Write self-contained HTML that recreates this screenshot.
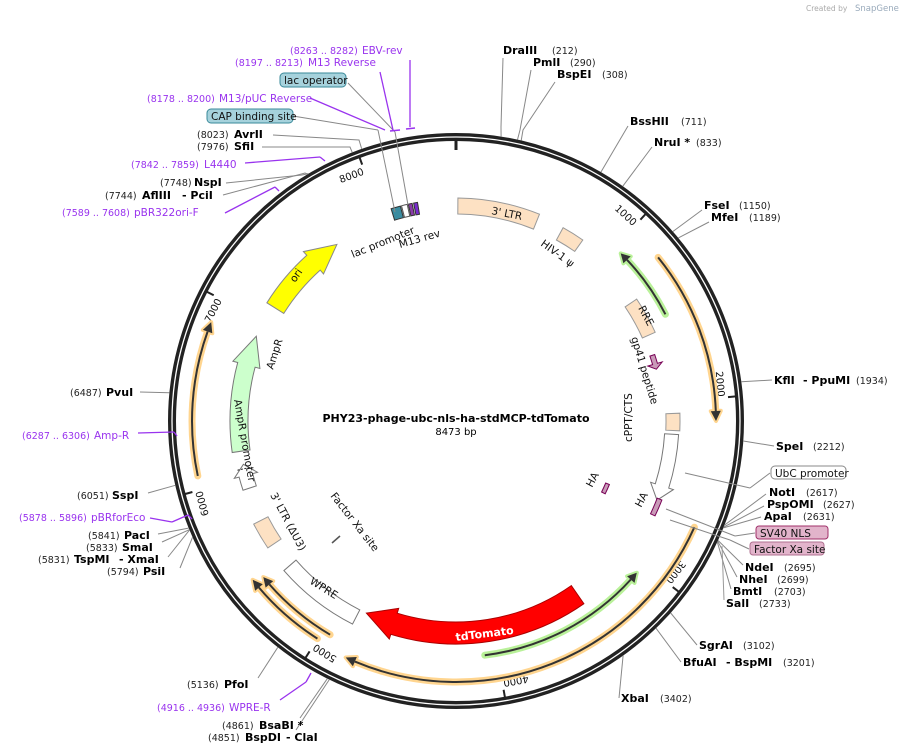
<!DOCTYPE html>
<html><head><meta charset="utf-8"><style>
html,body{margin:0;padding:0;background:#fff;}
svg{display:block;font-family:"DejaVu Sans","Liberation Sans",sans-serif;}
.e{font-weight:bold;font-size:11px;fill:#000;}
.n{font-size:9.5px;fill:#222;}
.p{font-size:10.5px;fill:#9933ee;}
.pn{font-size:9.5px;fill:#9933ee;}
.f{font-size:10.5px;fill:#111;}
</style></head><body>
<svg id="s" width="904" height="754" viewBox="0 0 904 754" xmlns="http://www.w3.org/2000/svg">
<text x="806" y="11" font-size="7.5" fill="#aaa">Created by</text>
<text x="855" y="11" font-size="8.5" fill="#9ab">SnapGene</text>
<g id="g"></g>
<text class="e" x="503" y="54">DraIII</text><text class="n" x="552" y="54">(212)</text>
<text class="e" x="533" y="66">PmlI</text><text class="n" x="570" y="66">(290)</text>
<text class="e" x="557" y="78">BspEI</text><text class="n" x="602" y="78">(308)</text>
<text class="e" x="630" y="125">BssHII</text><text class="n" x="681" y="125">(711)</text>
<text class="e" x="654" y="146">NruI *</text><text class="n" x="696" y="146">(833)</text>
<text class="e" x="704" y="209">FseI</text><text class="n" x="739" y="209">(1150)</text>
<text class="e" x="711" y="221">MfeI</text><text class="n" x="749" y="221">(1189)</text>
<text class="e" x="774" y="384">KflI</text><text class="e" x="803" y="384">- PpuMI</text><text class="n" x="856" y="384">(1934)</text>
<text class="e" x="776" y="450">SpeI</text><text class="n" x="813" y="450">(2212)</text>
<rect x="771" y="466" width="75" height="13" rx="4" fill="#fff" stroke="#888"/><text class="f" x="775" y="477">UbC promoter</text>
<text class="e" x="769" y="496">NotI</text><text class="n" x="806" y="496">(2617)</text>
<text class="e" x="767" y="508">PspOMI</text><text class="n" x="823" y="508">(2627)</text>
<text class="e" x="764" y="520">ApaI</text><text class="n" x="803" y="520">(2631)</text>
<rect x="756" y="526" width="72" height="13" rx="3" fill="#e2b4cb" stroke="#a0306a"/><text class="f" x="760" y="537">SV40 NLS</text>
<rect x="750" y="542" width="74" height="13" rx="3" fill="#e2b4cb" stroke="#b07090"/><text class="f" x="754" y="553">Factor Xa site</text>
<text class="e" x="745" y="571">NdeI</text><text class="n" x="784" y="571">(2695)</text>
<text class="e" x="739" y="583">NheI</text><text class="n" x="777" y="583">(2699)</text>
<text class="e" x="733" y="595">BmtI</text><text class="n" x="774" y="595">(2703)</text>
<text class="e" x="726" y="607">SalI</text><text class="n" x="759" y="607">(2733)</text>
<text class="e" x="699" y="649">SgrAI</text><text class="n" x="743" y="649">(3102)</text>
<text class="e" x="683" y="666">BfuAI</text><text class="e" x="726" y="666">- BspMI</text><text class="n" x="783" y="666">(3201)</text>
<text class="e" x="621" y="702">XbaI</text><text class="n" x="660" y="702">(3402)</text>
<text class="n" x="222" y="729">(4861)</text><text class="e" x="259" y="729">BsaBI *</text>
<text class="n" x="208" y="741">(4851)</text><text class="e" x="245" y="741">BspDI</text><text class="e" x="286" y="741">- ClaI</text>
<text class="n" x="187" y="688">(5136)</text><text class="e" x="224" y="688">PfoI</text>
<text class="pn" x="157" y="711">(4916 .. 4936)</text><text class="p" x="229" y="711">WPRE-R</text>
<text class="n" x="107" y="575">(5794)</text><text class="e" x="143" y="575">PsiI</text>
<text class="n" x="38" y="563">(5831)</text><text class="e" x="74" y="563">TspMI</text><text class="e" x="119" y="563">- XmaI</text>
<text class="n" x="86" y="551">(5833)</text><text class="e" x="122" y="551">SmaI</text>
<text class="n" x="88" y="539">(5841)</text><text class="e" x="124" y="539">PacI</text>
<text class="pn" x="19" y="521">(5878 .. 5896)</text><text class="p" x="91" y="521">pBRforEco</text>
<text class="n" x="77" y="499">(6051)</text><text class="e" x="112" y="499">SspI</text>
<text class="pn" x="22" y="439">(6287 .. 6306)</text><text class="p" x="94" y="439">Amp-R</text>
<text class="n" x="70" y="396">(6487)</text><text class="e" x="106" y="396">PvuI</text>
<text class="pn" x="62" y="216">(7589 .. 7608)</text><text class="p" x="134" y="216">pBR322ori-F</text>
<text class="n" x="105" y="199">(7744)</text><text class="e" x="142" y="199">AflIII</text><text class="e" x="182" y="199">- PciI</text>
<text class="n" x="160" y="186">(7748)</text><text class="e" x="194" y="186">NspI</text>
<text class="pn" x="131" y="168">(7842 .. 7859)</text><text class="p" x="204" y="168">L4440</text>
<text class="n" x="197" y="150">(7976)</text><text class="e" x="234" y="150">SfiI</text>
<text class="n" x="197" y="138">(8023)</text><text class="e" x="234" y="138">AvrII</text>
<rect x="207" y="109" width="86" height="14" rx="4" fill="#a6d2dc" stroke="#3a8a9a"/><text class="f" x="211" y="120">CAP binding site</text>
<text class="pn" x="147" y="102">(8178 .. 8200)</text><text class="p" x="219" y="102">M13/pUC Reverse</text>
<rect x="280" y="73" width="66" height="14" rx="4" fill="#a6d2dc" stroke="#3a8a9a"/><text class="f" x="284" y="84">lac operator</text>
<text class="pn" x="235" y="66">(8197 .. 8213)</text><text class="p" x="308" y="66">M13 Reverse</text>
<text class="pn" x="290" y="54">(8263 .. 8282)</text><text class="p" x="362" y="54">EBV-rev</text>
<text x="456" y="422" text-anchor="middle" font-size="11" font-weight="bold">PHY23-phage-ubc-nls-ha-stdMCP-tdTomato</text>
<text x="456" y="435" text-anchor="middle" font-size="10">8473 bp</text>
<text class="f" transform="translate(491,214) rotate(11)">3' LTR</text>
<text class="f" transform="translate(540,245) rotate(36)">HIV-1 ψ</text>
<text class="f" transform="translate(638,308) rotate(62)">RRE</text>
<text class="f" transform="translate(631,338) rotate(73)">gp41 peptide</text>
<text class="f" transform="translate(632,442) rotate(-90)">cPPT/CTS</text>
<text class="f" transform="translate(592,488) rotate(-62)">HA</text>
<text class="f" transform="translate(641,508) rotate(-62)">HA</text>
<text transform="translate(456,641) rotate(-7)" font-size="11" font-weight="bold" fill="#fff">tdTomato</text>
<text class="f" transform="translate(309,583) rotate(32)">WPRE</text>
<text class="f" transform="translate(270,495) rotate(62)">3' LTR (ΔU3)</text>
<text class="f" transform="translate(330,496) rotate(52)">Factor Xa site</text>
<text class="f" transform="translate(234,400) rotate(80)">AmpR promoter</text>
<text class="f" transform="translate(273,370) rotate(-72)">AmpR</text>
<text class="f" transform="translate(295,283) rotate(-55)">ori</text>
<text class="f" transform="translate(353,258) rotate(-22)">lac promoter</text>
<text class="f" transform="translate(400,248) rotate(-16)">M13 rev</text>
</svg>
<script>
var cx=456,cy=421,NS="http://www.w3.org/2000/svg",g=document.getElementById('g');
function P(r,a){a=a*Math.PI/180;return [cx+r*Math.sin(a),cy-r*Math.cos(a)];}
function f(p){return p[0].toFixed(1)+","+p[1].toFixed(1);}
function el(t,at){var e=document.createElementNS(NS,t);for(var k in at)e.setAttribute(k,at[k]);g.appendChild(e);return e;}
function arc(r,a1,a2){var l=(a2-a1)>180?1:0;return "M"+f(P(r,a1))+" A"+r+","+r+" 0 "+l+" 1 "+f(P(r,a2));}
function band(r,w,a1,a2,head,hd,fill,stroke){
 var ro=r+w/2,ri=r-w/2,hw=5,d;
 if(head=='end'){var b=a2-hd;
  d="M"+f(P(ro,a1))+" A"+ro+","+ro+" 0 0 1 "+f(P(ro,b))+" L"+f(P(ro+hw,b))+" L"+f(P(r,a2))+" L"+f(P(ri-hw,b))+" L"+f(P(ri,b))+" A"+ri+","+ri+" 0 0 0 "+f(P(ri,a1))+" Z";}
 else if(head=='start'){var b=a1+hd;
  d="M"+f(P(ro,a2))+" A"+ro+","+ro+" 0 0 0 "+f(P(ro,b))+" L"+f(P(ro+hw,b))+" L"+f(P(r,a1))+" L"+f(P(ri-hw,b))+" L"+f(P(ri,b))+" A"+ri+","+ri+" 0 0 1 "+f(P(ri,a2))+" Z";}
 else {d="M"+f(P(ro,a1))+" A"+ro+","+ro+" 0 0 1 "+f(P(ro,a2))+" L"+f(P(ri,a2))+" A"+ri+","+ri+" 0 0 0 "+f(P(ri,a1))+" Z";}
 el('path',{d:d,fill:fill,stroke:stroke,'stroke-width':1});
}
function thin(r,a1,a2,dir,halo){
 var hd=2.2,s=a1,e=a2;
 if(dir=='end')e=a2-hd; else s=a1+hd;
 var tip=dir=='end'?a2:a1,b=dir=='end'?e:s;
 var tri="M"+f(P(r+5,b))+" L"+f(P(r,tip))+" L"+f(P(r-5,b))+" Z";
 el('path',{d:arc(r,s,e),fill:'none',stroke:halo,'stroke-width':7,'stroke-linecap':'round'});
 el('path',{d:tri,fill:halo,stroke:halo,'stroke-width':4,'stroke-linejoin':'round'});
 el('path',{d:arc(r,s,e),fill:'none',stroke:'#333','stroke-width':2});
 el('path',{d:tri,fill:'#333'});
}
function ln(x1,y1,x2,y2,c,w){el('path',{d:"M"+x1+","+y1+" L"+x2+","+y2,stroke:c||'#888','stroke-width':w||1,fill:'none'});}
function enz(bp,pts,c){var a=bp/8473*360,p=P(288,a);var d="M"+f(p);pts.forEach(function(q){d+=" L"+q[0]+","+q[1];});el('path',{d:d,stroke:c||'#888','stroke-width':1,fill:'none'});}
el('circle',{cx:cx,cy:cy,r:284,fill:'none',stroke:'#222','stroke-width':8});
el('circle',{cx:cx,cy:cy,r:284,fill:'none',stroke:'#fff','stroke-width':1.3});
el('path',{d:"M"+f(P(281,0))+" L"+f(P(271,0)),stroke:'#222','stroke-width':3});
for(var k=1;k<=8;k++){var a=k*1000/8473*360;
 el('path',{d:"M"+f(P(281,a))+" L"+f(P(273,a)),stroke:'#222','stroke-width':2});
 var top=(a<90||a>270),rot=top?(a>180?a-360:a):a-180;
 var rr=top?263:271;var p=P(rr,a);
 var t=el('text',{'font-size':10,fill:'#111','text-anchor':top?'end':'start',transform:"translate("+f(p)+") rotate("+rot.toFixed(1)+")"});
 t.setAttribute('x',top?-1:2);t.textContent=k*1000;}
var OR='#ffd58f',GR='#b9f199';
thin(260,51,90,'end',OR);
thin(261,114,205,'end',OR);
thin(264,258,292,'end',OR);
thin(258,212.5,232,'end',OR);
thin(248,210.5,231,'end',OR);
thin(235,44.5,63,'start',GR);
thin(236,130,173,'start',GR);
var LT='#fde1c3',LS='#999';
band(215,16,0.5,22,null,0,LT,LS);
band(214,14,29,35,null,0,LT,LS);
band(211,14,56,66,null,0,LT,LS);
band(217,14,88,92.5,null,0,LT,LS);
band(216,14,93.5,111.5,'end',4,'#fff','#777');
band(207,5,71.5,75.5,'end',1.5,'#c99ab8','#705');
band(218,5,111,115.5,null,0,'#c99ab8','#705');
band(164,4,112.5,116,null,0,'#c99ab8','#705');
band(212,22,145,205,'end',8,'#ff0000','#a00');
band(220,16,207,229,null,0,'#fff','#777');
band(219,16,236,243,null,0,LT,LS);
band(217,18,262,293,'end',8,'#ccffcc','#777');
band(217,14,252,258.5,'end',3,'#fff','#777');
band(213,20,302,326,'end',8,'#ffff00','#888');
band(216,12,343,345.5,null,0,'#3a8ca0','#333');
band(216,12,345.8,347.3,null,0,'#fff','#555');
band(216,12,347.6,348.6,null,0,'#8a3aa8','#333');
band(216,12,349,350,null,0,'#7a2ad0','#333');
el('path',{d:"M"+f(P(224,257.3))+" L"+f(P(210,257.3)),stroke:'#222','stroke-width':1,'stroke-dasharray':'2,1.5'});
ln(332,543,340,536,'#555',1.5);
enz(212,[[501,127],[503,58]]);
enz(290,[[520,130],[531,70]]);
enz(308,[[523,130],[555,82]]);
enz(711,[[628,126]]);
enz(833,[[652,147]]);
enz(1150,[[702,210]]);
enz(1189,[[709,222]]);
enz(1934,[[772,380]]);
enz(2212,[[774,446]]);
ln(685,473,750,488);ln(750,488,770,473);
enz(2617,[[766,494]]);enz(2627,[[764,506]]);enz(2631,[[761,517]]);
ln(666,509,735,536);ln(735,536,755,533);
ln(670,520,730,540);ln(730,540,749,549);
enz(2695,[[743,565]]);enz(2699,[[737,577]]);enz(2703,[[731,589]]);
ln(722,546,724,600,'#999');
enz(3102,[[697,645]]);
enz(3201,[[681,662]]);
enz(3402,[[619,698]]);
enz(4861,[[300,718]]);enz(4851,[[296,730]]);
enz(5136,[[258,678]]);
ln(280,700,306,682,'#9933ee',1.3);ln(306,682,311,673,'#9933ee',1.3);
enz(5794,[[180,568]]);enz(5831,[[168,557]]);enz(5833,[[162,542]]);enz(5841,[[158,534]]);
ln(150,518,172,522,'#9933ee',1.3);ln(172,522,188,515,'#9933ee',1.3);ln(188,515,192,519,'#9933ee',1.3);
enz(6051,[[148,493]]);
ln(138,433,174,432,'#9933ee',1.3);ln(174,432,177,436,'#9933ee',1.3);
enz(6487,[[140,392]]);
ln(225,213,275,187,'#9933ee',1.3);ln(275,187,279,191,'#9933ee',1.3);
enz(7744,[[305,173],[223,195]]);enz(7748,[[302,175],[226,183]]);
ln(245,163,320,157,'#9933ee',1.3);ln(320,157,325,161,'#9933ee',1.3);
enz(7976,[[350,147],[262,147]]);
enz(8023,[[359,140],[273,135]]);
ln(293,116,378,130);ln(378,130,395,212);
ln(310,98,385,130,'#9933ee',1.3);
ln(348,83,395,132);ln(395,132,408,205);
ln(380,72,393,130,'#9933ee',1.3);
ln(410,60,410,127,'#9933ee',1.3);
ln(390,131,400,130,'#9933ee',1.5);ln(406,129,415,128,'#9933ee',1.5);
</script>
</body></html>
